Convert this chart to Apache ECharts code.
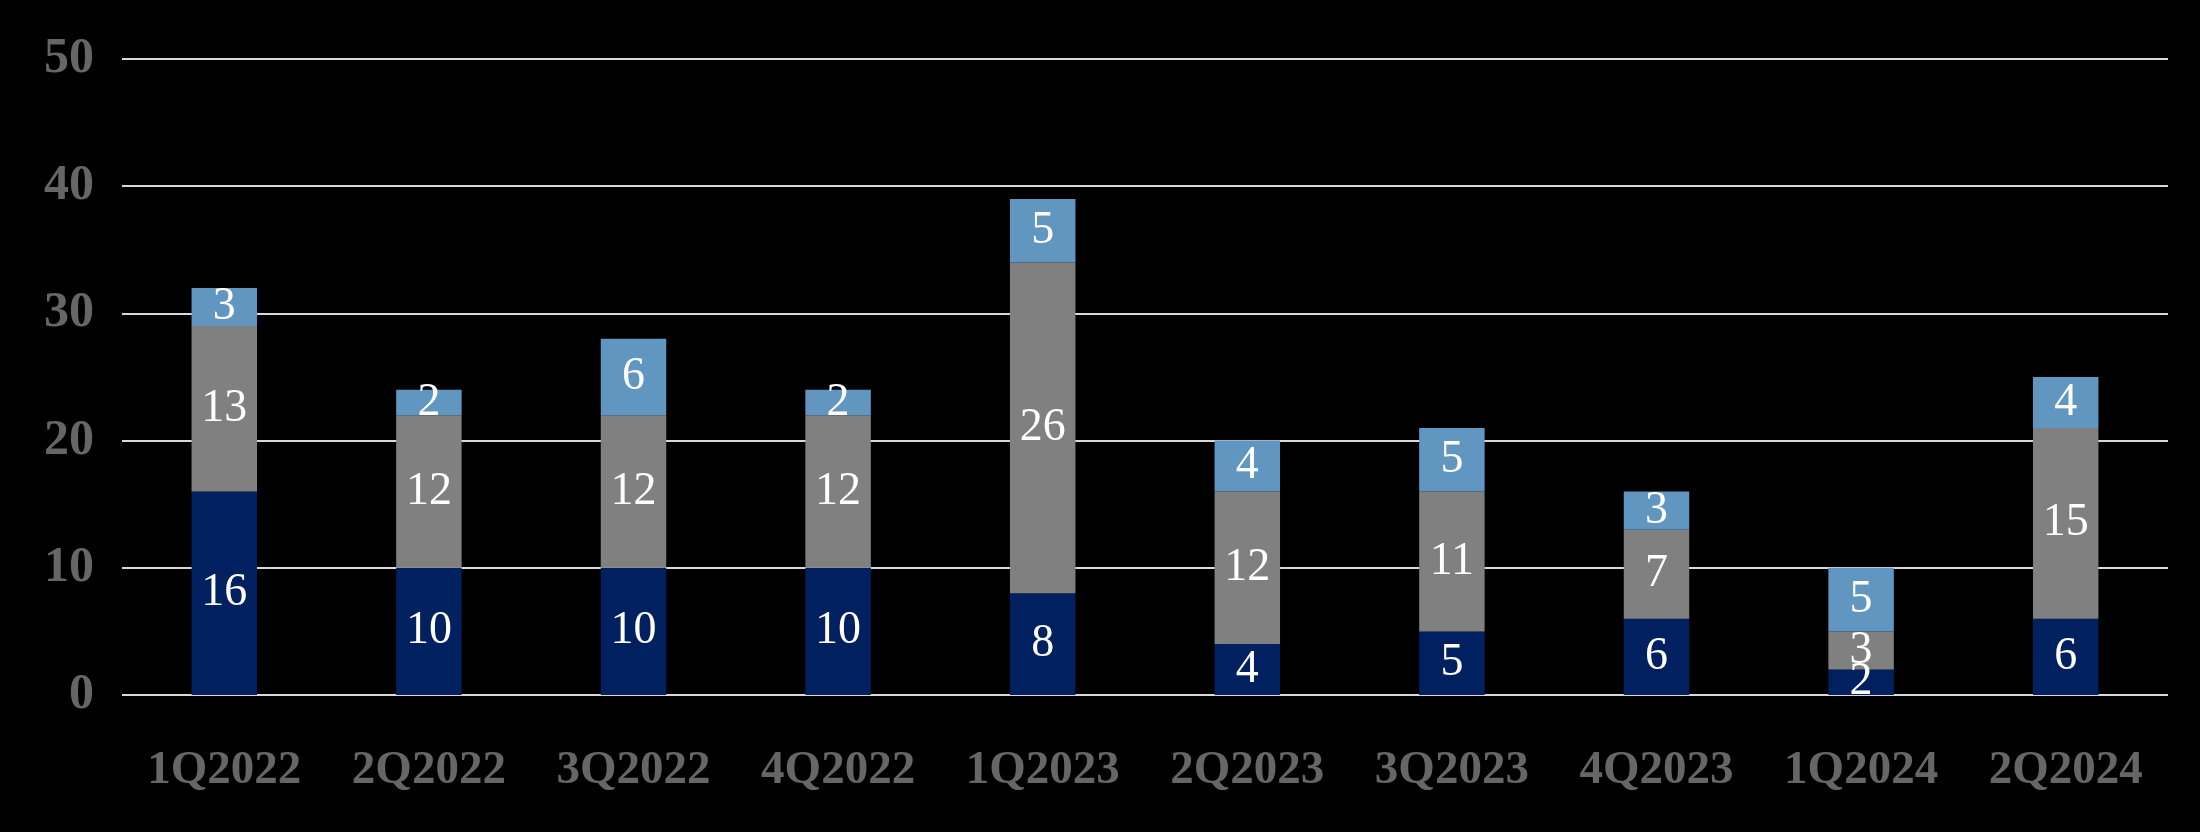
<!DOCTYPE html>
<html>
<head>
<meta charset="utf-8">
<script src="https://cdn.jsdelivr.net/npm/echarts@6/dist/echarts.min.js"></script>
<style>
html,body{margin:0;padding:0;background:#000;}
#c{width:2200px;height:832px;}
</style>
</head>
<body>
<div id="c"></div>
<script>
const categories = ['1Q2022','2Q2022','3Q2022','4Q2022','1Q2023','2Q2023','3Q2023','4Q2023','1Q2024','2Q2024'];
const navyValues = [16,10,10,10,8,4,5,6,2,6];
const grayValues = [13,12,12,12,26,12,11,7,3,15];
const lightBlueValues = [3,2,6,2,5,4,5,3,5,4];
const yTicks = [0,10,20,30,40,50];

const FONT = '"Liberation Serif", "DejaVu Serif", serif';
const labelStyle = {
  show: true,
  position: 'inside',
  color: '#ffffff',
  fontFamily: FONT,
  fontSize: 46
};

function mkSeries(name, data, color) {
  return {
    name: name,
    type: 'bar',
    stack: 'total',
    data: data,
    barWidth: '32%',
    itemStyle: { color: color },
    label: labelStyle
  };
}

const chart = echarts.init(document.getElementById('c'), null, {renderer: 'canvas'});
chart.setOption({
  backgroundColor: '#000000',
  animation: false,
  grid: { left: 122, right: 32, top: 59, bottom: 137, containLabel: false },
  xAxis: {
    type: 'category',
    data: categories,
    axisLine: { show: false },
    axisTick: { show: false },
    axisLabel: { color: '#666666', fontFamily: FONT, fontSize: 47, fontWeight: 'bold', margin: 52 }
  },
  yAxis: {
    type: 'value',
    min: yTicks[0],
    max: yTicks[yTicks.length - 1],
    interval: 10,
    axisLine: { show: false },
    axisTick: { show: false },
    splitLine: { show: true, lineStyle: { color: '#d9d9d9', width: 2 } },
    axisLabel: { color: '#666666', fontFamily: FONT, fontSize: 50, margin: 28, fontWeight: 'bold' }
  },
  series: [
    mkSeries('A', navyValues, '#00205f'),
    mkSeries('B', grayValues, '#808080'),
    mkSeries('C', lightBlueValues, '#6096bf')
  ]
});
</script>
</body>
</html>
